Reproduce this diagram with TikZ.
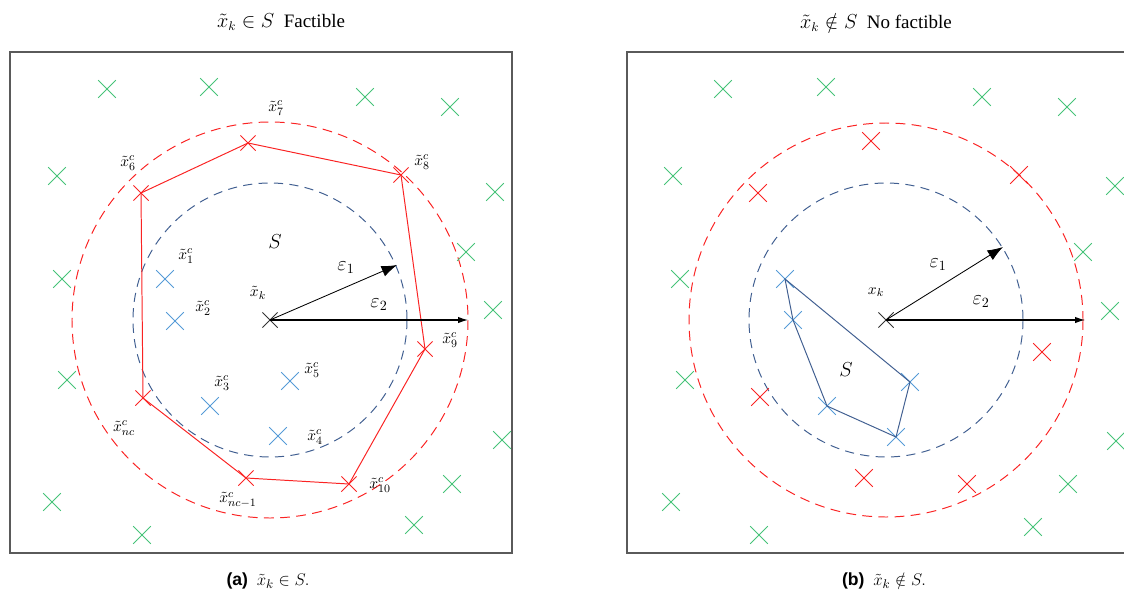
\documentclass[tikz,border=0pt]{standalone}
\usepackage{fontspec}
\setmainfont{Liberation Serif}
\newfontfamily\capsf{Liberation Sans}
\usetikzlibrary{shapes.misc,arrows.meta}
\definecolor{gcol}{RGB}{70,195,120}
\definecolor{lblue}{RGB}{85,155,215}
\definecolor{dblue}{RGB}{65,95,145}
\definecolor{rcol}{RGB}{250,35,35}
\definecolor{boxc}{RGB}{90,90,90}
\tikzset{
  cx/.style={cross out, draw, minimum size=0.42cm, inner sep=0pt, line width=0.6pt},
  gx/.style={cx, draw=gcol},
  bx/.style={cx, draw=lblue},
  rx/.style={cx, draw=rcol, minimum size=0.36cm},
  kx/.style={cx, draw=black!80, minimum size=0.36cm},
  lab/.style={font=\fontsize{11}{13}\selectfont, inner sep=0pt},
  elab/.style={font=\fontsize{14}{16}\selectfont, inner sep=0pt},
  ttl/.style={font=\fontsize{13.5}{15}\selectfont, inner sep=0pt},
  captxt/.style={font=\fontsize{12.5}{15}\selectfont, inner sep=0pt},
  rdash/.style={draw=rcol, dash pattern=on 7pt off 4.5pt, line width=0.7pt},
  bdash/.style={draw=dblue, dash pattern=on 6.5pt off 4.5pt, line width=0.7pt},
  panel/.style={draw=boxc, line width=1.2pt},
  bigarr/.style={-{Latex[length=11pt,width=8pt]}, line width=0.6pt},
  smallarr/.style={-{Latex[length=7pt,width=4.5pt]}, line width=0.8pt},
}
\begin{document}
\begin{tikzpicture}[x=0.025cm,y=-0.025cm]
\useasboundingbox (0,0) rectangle (1124,599);
% panels
\draw[panel] (10,52) rectangle (512,553);
\draw[panel] (627,52) rectangle (1140,553);

% titles
\node[ttl] (t1) at (281,22) {$\tilde{x}_k \in S$\ \ Factible};
\node[ttl] (t2) at (876,22) {$\tilde{x}_k \notin S$\ \ No factible};

% captions
\node[captxt] (c1) at (268,581) {{\capsf\bfseries (a)}\ \ $\tilde{x}_k \in S.$};
\node[captxt] (c2) at (884,581) {{\capsf\bfseries (b)}\ \ $\tilde{x}_k \notin S.$};

% ---------- left panel ----------
\coordinate (cL) at (270,320);
\draw[rdash] (cL) circle [radius=198];
\draw[bdash] (cL) circle [radius=137];

\foreach \n/\p in {1/{107,89},2/{209,87},3/{365,97},4/{450,107},5/{57,176},6/{495,192},7/{466,252},8/{62,279},9/{493,310},10/{67,380},11/{502,440},12/{452,484},13/{52,502},14/{414,525},15/{142,535}}
  \node[gx] (gL\n) at (\p) {};

% red polygon vertices
\node[rx] (p6) at (141,193) {};
\node[rx] (p7) at (248,143) {};
\node[rx] (p8) at (401,175) {};
\node[rx] (p9) at (425,349) {};
\node[rx] (p10) at (349,484) {};
\node[rx] (pm) at (246,478) {};
\node[rx] (pn) at (143,398) {};
\draw[rcol, line width=0.7pt] (p6.center) -- (p7.center) -- (p8.center) -- (p9.center) -- (p10.center) -- (pm.center) -- (pn.center) -- cycle;

% blue inner crosses
\node[bx] (q1) at (165,279) {};
\node[bx] (q2) at (175,321) {};
\node[bx] (q3) at (210,406) {};
\node[bx] (q5) at (290,381) {};
\node[bx] (q4) at (278,436) {};

% labels
\node[lab] (l7) at (276,108) {$\tilde{x}^{c}_{7}$};
\node[lab] (l6) at (128,163) {$\tilde{x}^{c}_{6}$};
\node[lab] (l8) at (422,162) {$\tilde{x}^{c}_{8}$};
\node[lab] (l9) at (450,340) {$\tilde{x}^{c}_{9}$};
\node[lab] (l10) at (380,485) {$\tilde{x}^{c}_{10}$};
\node[lab] (lm) at (238,500) {$\tilde{x}^{c}_{nc-1}$};
\node[lab] (ln) at (124,428) {$\tilde{x}^{c}_{nc}$};
\node[lab] (l1) at (186,256) {$\tilde{x}^{c}_{1}$};
\node[lab] (l2) at (203,308) {$\tilde{x}^{c}_{2}$};
\node[lab] (l3) at (222,383) {$\tilde{x}^{c}_{3}$};
\node[lab] (l5) at (312,370) {$\tilde{x}^{c}_{5}$};
\node[lab] (l4) at (315,437) {$\tilde{x}^{c}_{4}$};
\node[elab] (SL) at (275,242) {$S$};
\node[lab] (xkL) at (258,293) {$\tilde{x}_k$};

% center and arrows
\node[kx] (kL) at (cL) {};
\coordinate (e1L) at (397,265);
\coordinate (e2L) at (468,320);
\draw[bigarr] (kL.center) -- (e1L);
\draw[smallarr] (kL.center) -- (e2L);
\node[elab] (eps1L) at (346,268) {$\varepsilon_1$};
\node[elab] (eps2L) at (379,305) {$\varepsilon_2$};

% ---------- right panel ----------
\coordinate (cR) at (886,320);
\draw[rdash] (cR) circle [radius=197];
\draw[bdash] (cR) circle [radius=137];

\foreach \n/\p in {1/{723,89},2/{826,87},3/{982,97},4/{1067,107},5/{673,176},6/{1115,186},7/{1083,252},8/{680,279},9/{1110,311},10/{685,380},11/{1116,441},12/{1068,484},13/{671,502},14/{1033,527},15/{759,535}}
  \node[gx] (gR\n) at (\p) {};

\foreach \n/\p in {1/{871,141},2/{758,193},3/{1019,175},4/{1042,352},5/{760,397},6/{864,478},7/{967,484}}
  \node[cx, draw=rcol] (rR\n) at (\p) {};

\node[bx] (b1) at (785,279) {};
\node[bx] (b2) at (793,320) {};
\node[bx] (b3) at (827,406) {};
\node[bx] (b4) at (896,437) {};
\node[bx] (b5) at (910,382) {};
\draw[dblue, line width=0.7pt] (b1.center) -- (b2.center) -- (b3.center) -- (b4.center) -- (b5.center) -- cycle;

\node[elab] (SR) at (846,370) {$S$};
\node[lab] (xkR) at (876,292) {$x_k$};

\node[kx] (kR) at (cR) {};
\coordinate (e1R) at (1003,247);
\coordinate (e2R) at (1085,320);
\draw[bigarr] (kR.center) -- (e1R);
\draw[smallarr] (kR.center) -- (e2R);
\node[elab] (eps1R) at (938,265) {$\varepsilon_1$};
\node[elab] (eps2R) at (981,302) {$\varepsilon_2$};
\end{tikzpicture}
\end{document}
